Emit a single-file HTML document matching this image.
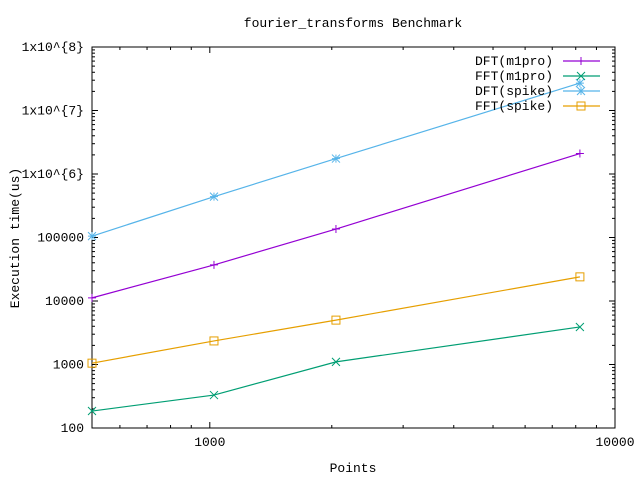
<!DOCTYPE html>
<html><head><meta charset="utf-8"><style>
html,body{margin:0;padding:0;background:#fff;}
svg{display:block;font-family:"Liberation Mono","DejaVu Sans Mono",monospace;font-size:13px;}
</style></head><body>
<svg id="chart" width="640" height="480" xmlns="http://www.w3.org/2000/svg">
<rect width="640" height="480" fill="#fff"/>
<text x="353" y="27" text-anchor="middle">fourier_transforms Benchmark</text>
<text x="353" y="472" text-anchor="middle">Points</text>
<text transform="translate(19,238) rotate(-90)" text-anchor="middle">Execution time(us)</text>
<g id="axes"></g>
<g id="series"></g>
<g id="legend"></g>
</svg>
<script>
const xPoints = [512, 1024, 2048, 8192];
const seriesNames = ["DFT(m1pro)", "FFT(m1pro)", "DFT(spike)", "FFT(spike)"];
const dftM1 = [11200, 37000, 136000, 2100000];
const fftM1 = [185, 330, 1100, 3900];
const dftSpike = [105000, 440000, 1750000, 27000000];
const fftSpike = [1050, 2350, 5000, 24000];
const yTickVals = [100, 1000, 10000, 100000, 1e6, 1e7, 1e8];
const yTickLabels = ["100", "1000", "10000", "100000", "1x10^{6}", "1x10^{7}", "1x10^{8}"];
const xTickVals = [1000, 10000];
const xTickLabels = ["1000", "10000"];
const colors = ["#9400d3", "#009e73", "#56b4e9", "#e69f00"];
const markers = ["plus", "cross", "star", "square"];

const NS = "http://www.w3.org/2000/svg";
const L = 92, R = 615, T = 47, B = 428;
const xMin = 512, xMax = 10000, yMin = 100, yMax = 1e8;
function xs(v){return L + (Math.log10(v)-Math.log10(xMin))/(Math.log10(xMax)-Math.log10(xMin))*(R-L);}
function ys(v){return B - (Math.log10(v)-Math.log10(yMin))/(Math.log10(yMax)-Math.log10(yMin))*(B-T);}
function mk(tag, attrs, parent){const e=document.createElementNS(NS,tag);for(const k in attrs)e.setAttribute(k,attrs[k]);parent.appendChild(e);return e;}

const axes = document.getElementById('axes');
const border = mk('rect',{x:L,y:T,width:R-L,height:B-T,fill:'none',stroke:'#000','stroke-width':1},axes);


for(let d=2; d<8; d++){
  for(let m=1;m<10;m++){
    const v=m*Math.pow(10,d); const y=ys(v); const len=m===1?6:3;
    const t1=mk('line',{x1:L,y1:y,x2:L+len,y2:y,stroke:'#000'},axes);
    
    
    const t2=mk('line',{x1:R,y1:y,x2:R-len,y2:y,stroke:'#000'},axes);
    
    
  }
}
yTickVals.forEach((v,i)=>{
  const t=mk('text',{x:84,y:ys(v)+4,'text-anchor':'end'},axes);
  t.textContent=yTickLabels[i];
  
  
});
for(let d=2; d<4; d++){
  for(let m=1;m<10;m++){
    const v=m*Math.pow(10,d); if(v<xMin||v>xMax) continue;
    const x=xs(v); const len=m===1?6:3;
    const t1=mk('line',{x1:x,y1:B,x2:x,y2:B-len,stroke:'#000'},axes);
    
    
    const t2=mk('line',{x1:x,y1:T,x2:x,y2:T+len,stroke:'#000'},axes);
    
    
  }
}
xTickVals.forEach((v,i)=>{
  const t=mk('text',{x:xs(v),y:446,'text-anchor':'middle'},axes);
  t.textContent=xTickLabels[i];
  
  
});

function marker(type,x,y,c,parent){
  const g=mk('g',{stroke:c,fill:'none','stroke-width':1},parent);
  const s=4;
  if(type==='plus'){mk('path',{d:`M${x-s} ${y}H${x+s}M${x} ${y-s}V${y+s}`},g);}
  else if(type==='cross'){mk('path',{d:`M${x-s} ${y-s}L${x+s} ${y+s}M${x-s} ${y+s}L${x+s} ${y-s}`},g);}
  else if(type==='star'){mk('path',{d:`M${x-s} ${y}H${x+s}M${x} ${y-s}V${y+s}M${x-s} ${y-s}L${x+s} ${y+s}M${x-s} ${y+s}L${x+s} ${y-s}`},g);}
  else {mk('rect',{x:x-s,y:y-s,width:2*s,height:2*s},g);}
  return g;
}
const allSeries=[dftM1,fftM1,dftSpike,fftSpike];
const sg=document.getElementById('series');
allSeries.forEach((vals,si)=>{
  const pts=vals.map((v,i)=>xs(xPoints[i])+','+ys(v)).join(' ');
  const pl=mk('polyline',{points:pts,fill:'none',stroke:colors[si],'stroke-width':1.2},sg);
  
  
  vals.forEach((v,i)=>{
    const m=marker(markers[si],xs(xPoints[i]),ys(v),colors[si],sg);
    
    
  });
});
const lg=document.getElementById('legend');
seriesNames.forEach((n,i)=>{
  const y=61+i*15;
  const g=mk('g',{},lg);
  
  
  const t=mk('text',{x:553,y:y+4,'text-anchor':'end'},g);
  t.textContent=n;
  mk('line',{x1:563,y1:y,x2:600,y2:y,stroke:colors[i],'stroke-width':1.2},g);
  marker(markers[i],581,y,colors[i],g);
});
</script>
</body></html>
